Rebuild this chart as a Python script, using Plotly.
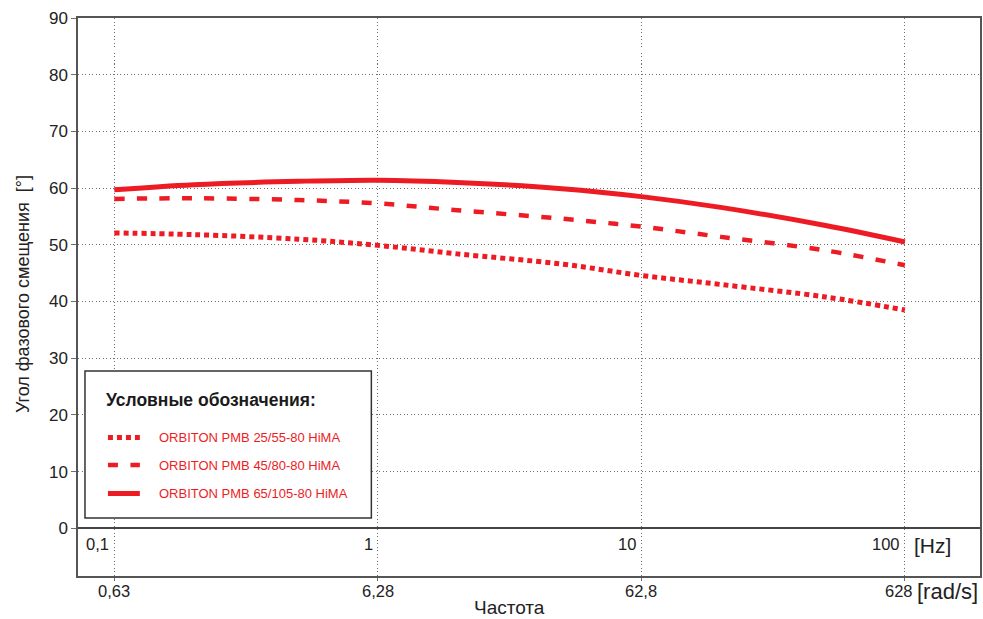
import math
import plotly.graph_objects as go

# ---------------- data ----------------
freq_hz = [0.1, 0.2, 0.5, 1, 2, 5, 10, 20, 50, 100]
series_names = ["ORBITON PMB 25/55-80 HiMA",
                "ORBITON PMB 45/80-80 HiMA",
                "ORBITON PMB 65/105-80 HiMA"]
angle_25_55 = [52.1, 51.8, 51.0, 49.9, 48.4, 46.6, 44.6, 43.0, 40.8, 38.5]
angle_45_80 = [58.1, 58.2, 57.9, 57.3, 56.1, 54.6, 53.2, 51.4, 49.0, 46.4]
angle_65_105 = [59.7, 60.6, 61.2, 61.4, 61.0, 59.9, 58.5, 56.6, 53.4, 50.5]

hz_ticks = [0.1, 1, 10, 100]
hz_labels = ["0,1", "1", "10", "100"]
rad_labels = ["0,63", "6,28", "62,8", "628"]
y_ticks = [0, 10, 20, 30, 40, 50, 60, 70, 80, 90]

legend_title = "Условные обозначения:"
x_title = "Частота"
y_title = "Угол фазового смещения  [°]"

RED = "#ED1C24"
series_vals = [angle_25_55, angle_45_80, angle_65_105]
dashes = ["5px,4px", "10px,12.5px", "solid"]
widths = [5, 4.5, 5]

# ---------------- layout geometry ----------------
W, H = 983, 619
ML, MR, MT, MB = 78, 1, 18, 43
PW, PH = W - ML - MR, H - MT - MB


def px(xp):
    return (xp - ML) / PW


def py(yp):
    return (H - MB - yp) / PH


fig = go.Figure()
for name, vals, d, w in zip(series_names, series_vals, dashes, widths):
    fig.add_trace(go.Scatter(
        x=freq_hz, y=vals, mode="lines", name=name,
        line=dict(color=RED, width=w, dash=d, shape="spline", smoothing=1.0),
        showlegend=False, hoverinfo="skip"))

NUM_FONT = "Liberation Sans, Arial, sans-serif"
NARROW = "Liberation Sans Narrow, Arial Narrow, Liberation Sans, sans-serif"
GRID = "#6e6e6e"

fig.update_layout(
    width=W, height=H,
    margin=dict(l=ML, r=MR, t=MT, b=MB, pad=0),
    paper_bgcolor="white", plot_bgcolor="white",
    font=dict(family=NUM_FONT, color="#222"),
    xaxis=dict(type="log", range=[-1.1378, 2.2851],
               tickvals=hz_ticks, showticklabels=False,
               showgrid=True, gridcolor=GRID, griddash="1px,2.5px", gridwidth=1,
               showline=True, mirror=True, linecolor="#555", linewidth=1.5,
               ticks="outside", ticklen=3, tickcolor=GRID, zeroline=False),
    yaxis=dict(range=[-8.41, 90], tickvals=y_ticks,
               showgrid=True, gridcolor=GRID, griddash="1px,2.5px", gridwidth=1,
               showline=True, mirror=True, linecolor="#555", linewidth=1.5,
               ticks="outside", ticklen=5, tickcolor=GRID,
               tickfont=dict(size=17, color="#222", family=NUM_FONT),
               zeroline=True, zerolinecolor="#444", zerolinewidth=1.5),
)

ann = []
# Hz tick labels
for v, t in zip(hz_ticks, hz_labels):
    ann.append(dict(x=math.log10(v), xref="x", y=py(543.5), yref="paper",
                    text=t, showarrow=False, xanchor="right", yanchor="middle",
                    xshift=-3, font=dict(size=16.5, color="#222", family=NUM_FONT)))
# rad/s tick labels
for i, (v, t) in enumerate(zip(hz_ticks, rad_labels)):
    ann.append(dict(x=math.log10(v), xref="x", y=py(591), yref="paper",
                    text=t, showarrow=False, xanchor="center", yanchor="middle",
                    xshift=-6 if i == len(hz_ticks) - 1 else 0,
                    font=dict(size=16.5, color="#222", family=NUM_FONT)))
ann.append(dict(x=px(914), xref="paper", y=py(545), yref="paper", text="[Hz]",
                showarrow=False, xanchor="left", yanchor="middle",
                font=dict(size=21, color="#222", family=NUM_FONT)))
ann.append(dict(x=px(917), xref="paper", y=py(591), yref="paper", text="[rad/s]",
                showarrow=False, xanchor="left", yanchor="middle",
                font=dict(size=22, color="#222", family=NUM_FONT)))
# axis titles
ann.append(dict(x=px(510), xref="paper", y=py(607), yref="paper", text=x_title,
                showarrow=False, xanchor="center", yanchor="middle",
                font=dict(size=19, color="#222", family=NARROW)))
ann.append(dict(x=px(23), xref="paper", y=py(294), yref="paper", text=y_title,
                showarrow=False, xanchor="center", yanchor="middle", textangle=-90,
                font=dict(size=18, color="#222", family=NARROW)))

# legend box
shapes = [dict(type="rect", xref="paper", yref="paper",
               x0=px(85), x1=px(372), y0=py(518), y1=py(371),
               line=dict(color="#333", width=1.5), fillcolor="white", layer="above")]
ann.append(dict(x=px(104), xref="paper", y=py(400), yref="paper",
                text="<b>" + legend_title + "</b>", showarrow=False,
                xanchor="left", yanchor="middle",
                font=dict(size=17.5, color="#1a1a1a", family=NUM_FONT)))
item_y = [437.5, 465, 493.5]
for name, d, w, yy in zip(series_names, dashes, widths, item_y):
    shapes.append(dict(type="line", xref="paper", yref="paper",
                       x0=px(108), x1=px(140), y0=py(yy), y1=py(yy),
                       line=dict(color=RED, width=w, dash=d), layer="above"))
    ann.append(dict(x=px(157), xref="paper", y=py(yy), yref="paper", text=name,
                    showarrow=False, xanchor="left", yanchor="middle",
                    font=dict(size=13, color=RED, family=NUM_FONT)))

fig.update_layout(annotations=ann, shapes=shapes)
fig.write_html("out.html")
